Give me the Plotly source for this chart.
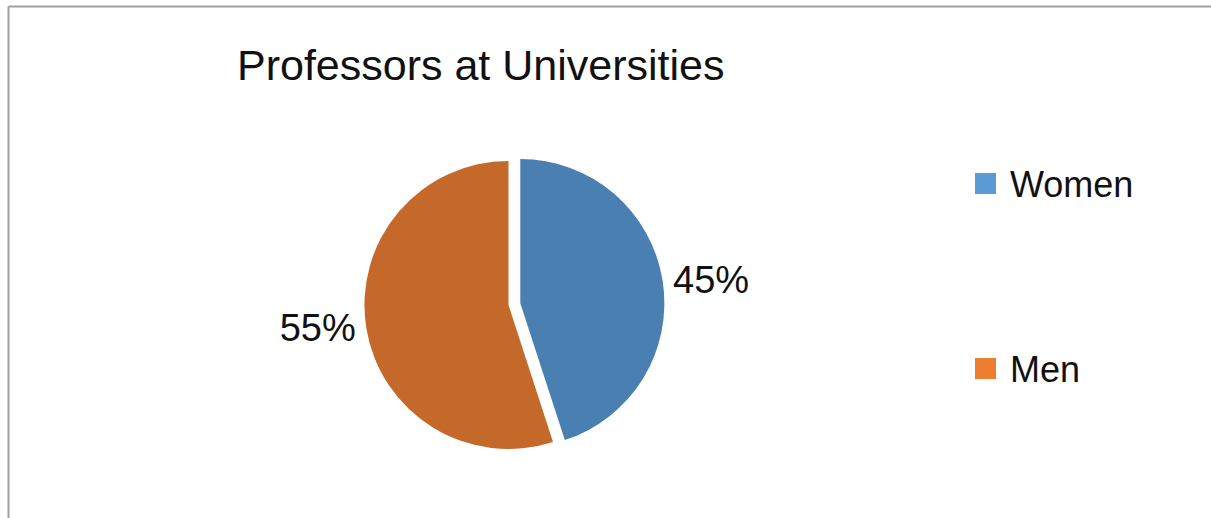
import plotly.graph_objects as go

# ---- data ----
labels = ["Women", "Men"]
values = [45, 55]
slice_colors = ["#4a7fb2", "#c5692b"]
legend_colors = ["#5b9bd5", "#ed7d31"]
title_text = "Professors at Universities"

W, H = 1211, 518
FONT = "Liberation Sans, Arial, sans-serif"

fig = go.Figure()

fig.add_trace(go.Pie(
    labels=labels,
    values=values,
    sort=False,
    direction="clockwise",
    rotation=0,
    pull=[0.083, 0],
    marker=dict(colors=slice_colors, line=dict(width=0)),
    textinfo="percent",
    textposition="outside",
    outsidetextfont=dict(family=FONT, size=38, color="#111111"),
    showlegend=False,
    hoverinfo="skip",
    domain=dict(x=[352.5 / W, 664.5 / W], y=[57 / H, 369 / H]),
))

# legend entries (one legend per item to reproduce the wide spacing)
for i, (lab, col) in enumerate(zip(labels, legend_colors)):
    fig.add_trace(go.Scatter(
        x=[None], y=[None], mode="markers", name=lab,
        marker=dict(symbol="square", size=16, color=col,
                    line=dict(color=col, width=5)),
        legend="legend" if i == 0 else "legend2",
        hoverinfo="skip",
    ))

legend_common = dict(
    font=dict(family=FONT, size=36, color="#111111"),
    bgcolor="rgba(0,0,0,0)",
    borderwidth=0,
    xanchor="left",
    yanchor="middle",
    itemwidth=39,
    itemclick=False,
    itemdoubleclick=False,
)

fig.update_layout(
    width=W, height=H,
    margin=dict(l=0, r=0, t=0, b=0),
    paper_bgcolor="white",
    plot_bgcolor="white",
    title=dict(
        text=title_text,
        font=dict(family=FONT, size=43, color="#111111"),
        x=237 / W, xanchor="left", xref="paper",
        y=1 - 65 / H, yanchor="middle", yref="container",
    ),
    xaxis=dict(visible=False),
    yaxis=dict(visible=False),
    legend=dict(x=961 / W, y=1 - 183.5 / H, **legend_common),
    legend2=dict(x=961 / W, y=1 - 368.5 / H, **legend_common),
    shapes=[
        dict(type="line", xref="paper", yref="paper",
             x0=8.5 / W, x1=8.5 / W, y0=0, y1=1 - 6.5 / H,
             line=dict(color="#a0a0a0", width=2)),
        dict(type="line", xref="paper", yref="paper",
             x0=8.5 / W, x1=1, y0=1 - 6.5 / H, y1=1 - 6.5 / H,
             line=dict(color="#a0a0a0", width=2)),
    ],
)

fig.write_html("out.html", config={"displayModeBar": False})
